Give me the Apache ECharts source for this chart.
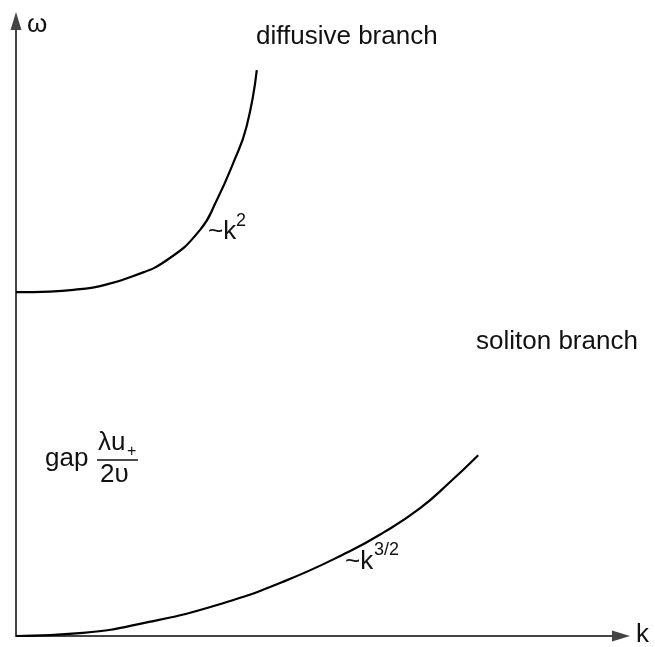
<!DOCTYPE html>
<html>
<head>
<meta charset="utf-8">
<script src="https://cdn.jsdelivr.net/npm/echarts@6/dist/echarts.min.js"></script>
<style>
  html, body { margin: 0; padding: 0; background: #fff; }
  #chart { width: 655px; height: 647px; }
</style>
</head>
<body>
<div id="chart"></div>
<script>
// values (arbitrary units, k and omega both 0..10)
var diffusiveK = [0, 0.56, 1.06, 1.39, 1.93, 2.49, 3.04, 3.32, 3.59, 3.81, 3.98];
var diffusiveW = [5.59, 5.60, 5.64, 5.69, 5.85, 6.11, 6.60, 7.09, 7.69, 8.28, 9.20];
var solitonK = [0, 1.11, 2.20, 3.31, 4.41, 5.50, 6.07, 6.68, 7.17, 7.64];
var solitonW = [0, 0.05, 0.23, 0.50, 0.88, 1.37, 1.68, 2.08, 2.50, 2.94];

function pairs (xs, ys) {
  return xs.map(function (x, i) { return [x, ys[i]] })
}

var font = '"Liberation Sans", Arial, sans-serif';
function txt (x, y, s, size, align) {
  return {
    type: 'text', x: x, y: y,
    style: {
      text: s, font: size + 'px ' + font, fill: '#111',
      textAlign: align || 'left', textVerticalAlign: 'middle'
    }
  }
}

var axisLine = {
  show: true,
  symbol: ['none', 'triangle'],
  symbolSize: [11, 18],
  lineStyle: { color: '#444', width: 2 }
};

var option = {
  animation: false,
  grid: { left: 16, top: 21, right: 34, bottom: 11 },
  xAxis: {
    type: 'value', min: 0, max: 10,
    axisLine: axisLine, axisTick: { show: false },
    axisLabel: { show: false }, splitLine: { show: false }
  },
  yAxis: {
    type: 'value', min: 0, max: 10,
    axisLine: axisLine, axisTick: { show: false },
    axisLabel: { show: false }, splitLine: { show: false }
  },
  series: [{
    type: 'line', smooth: 0.5, showSymbol: false,
    data: pairs(diffusiveK, diffusiveW),
    lineStyle: { color: '#000', width: 2.2 }
  }, {
    type: 'line', smooth: 0.5, showSymbol: false,
    data: pairs(solitonK, solitonW),
    lineStyle: { color: '#000', width: 2.2 }
  }],
  graphic: [
    txt(27, 25, 'ω', 26),
    txt(636, 635, 'k', 26),
    txt(256, 37, 'diffusive branch', 26),
    txt(476, 342, 'soliton branch', 26),
    txt(208, 232, '~k', 26),
    txt(236, 221, '2', 18),
    txt(345, 562, '~k', 26),
    txt(374, 550, '3/2', 18),
    txt(45, 459, 'gap', 26),
    txt(98, 443, 'λu', 26),
    txt(127, 452, '+', 16),
    {
      type: 'line',
      shape: { x1: 97, y1: 460, x2: 138, y2: 460 },
      style: { stroke: '#111', lineWidth: 1.5 }
    },
    txt(100, 475, '2υ', 26)
  ]
};

var myChart = echarts.init(document.getElementById('chart'));
myChart.setOption(option);
</script>
</body>
</html>
